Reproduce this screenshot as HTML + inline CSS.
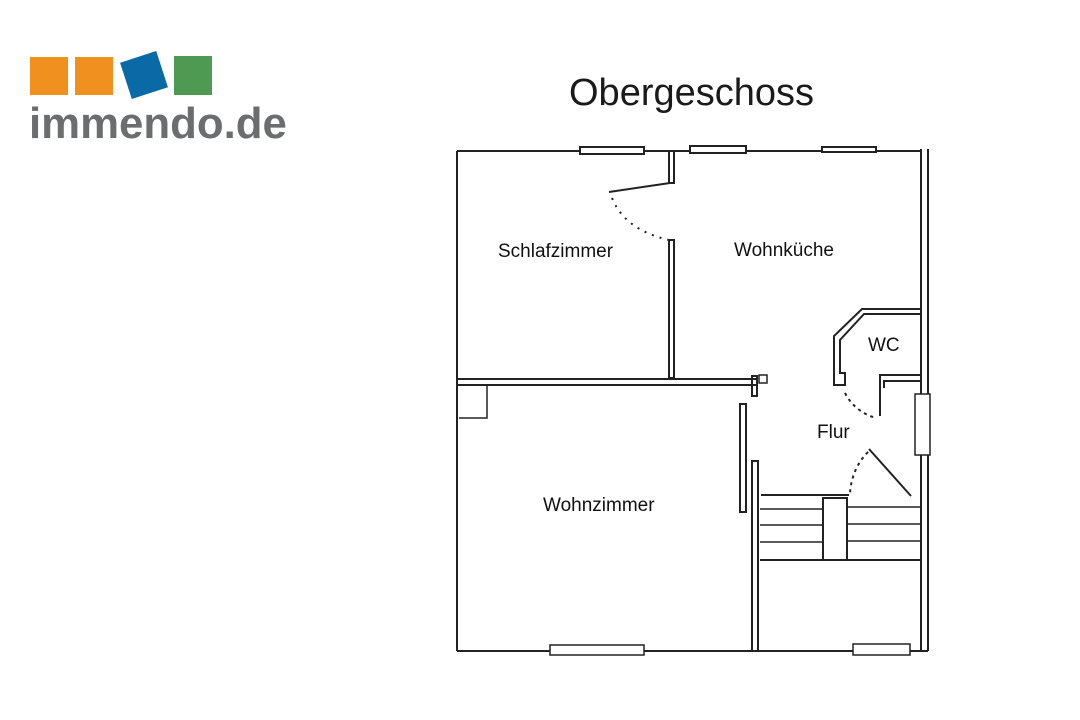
<!DOCTYPE html>
<html><head><meta charset="utf-8"><style>
body{margin:0;width:1080px;height:720px;background:#fff;overflow:hidden;position:relative;font-family:"Liberation Sans",sans-serif}
.t{position:absolute;color:#111}
</style></head><body>
<div style="position:absolute;left:30px;top:57px;width:38px;height:38px;background:#f0901e"></div>
<div style="position:absolute;left:75px;top:57px;width:38px;height:38px;background:#f0901e"></div>
<div style="position:absolute;left:125px;top:56px;width:38px;height:38px;background:#0a6aa6;transform:rotate(-18deg)"></div>
<div style="position:absolute;left:174px;top:56px;width:38px;height:39px;background:#4f9a52"></div>
<div class="t" style="left:29px;top:99px;font-size:44px;font-weight:bold;color:#6b6d6e;transform:scaleX(0.995);transform-origin:0 0">immendo.de</div>
<div class="t" style="left:569px;top:72px;font-size:38px;color:#1a1a1a">Obergeschoss</div>
<svg width="1080" height="720" style="position:absolute;left:0;top:0" fill="none" stroke="#222" stroke-width="2">
<line x1="457" y1="151" x2="921" y2="151"/>
<line x1="457" y1="151" x2="457" y2="651"/>
<line x1="457" y1="651" x2="928" y2="651"/>
<line x1="921" y1="149" x2="921" y2="651"/>
<line x1="928" y1="149" x2="928" y2="651"/>
<rect x="580" y="147" width="64" height="7" fill="#fff"/>
<rect x="690" y="146" width="56" height="7" fill="#fff"/>
<rect x="822" y="147" width="54" height="5" fill="#fff"/>
<rect x="550" y="645" width="94" height="10" fill="#fff" stroke-width="1.5"/>
<rect x="853" y="644" width="57" height="11" fill="#fff" stroke-width="1.5"/>
<rect x="915" y="394" width="15" height="61" fill="#fff" stroke-width="1.5"/>
<rect x="669" y="151" width="5" height="32"/>
<line x1="670" y1="183" x2="609" y2="192"/>
<path d="M612 198 Q625 230 669 240" stroke-dasharray="2 6"/>
<rect x="669" y="240" width="5" height="138"/>
<rect x="457" y="379" width="300" height="6"/>
<rect x="752" y="376" width="5" height="20"/>
<rect x="759" y="375" width="8" height="8" stroke-width="1.5"/>
<path d="M487 385 V418 H459" stroke-width="1.5"/>
<rect x="740" y="404" width="6" height="108"/>
<rect x="752" y="461" width="6" height="190"/>
<path d="M921 309 H862 L834 336 V385 H845 V373 H840 V340 L864 314 H921"/>
<path d="M921 375 H880 V416 M921 381 H884 V388"/>
<path d="M845 393 Q855 412 876 418" stroke-dasharray="3 4"/>
<line x1="869" y1="449" x2="911" y2="496"/>
<path d="M868 452 Q852 468 850 493" stroke-dasharray="3 4"/>
<line x1="761" y1="495" x2="849" y2="495"/>
<rect x="823" y="498" width="24" height="62"/>
<line x1="760" y1="509" x2="823" y2="509" stroke-width="1.5"/>
<line x1="760" y1="525" x2="823" y2="525" stroke-width="1.5"/>
<line x1="760" y1="542" x2="823" y2="542" stroke-width="1.5"/>
<line x1="847" y1="507" x2="921" y2="507" stroke-width="1.5"/>
<line x1="847" y1="524" x2="921" y2="524" stroke-width="1.5"/>
<line x1="847" y1="541" x2="921" y2="541" stroke-width="1.5"/>
<line x1="760" y1="560" x2="921" y2="560"/>
</svg>
<div class="t" style="left:498px;top:241px;font-size:19px">Schlafzimmer</div>
<div class="t" style="left:734px;top:240px;font-size:19px">Wohnküche</div>
<div class="t" style="left:868px;top:335px;font-size:19px">WC</div>
<div class="t" style="left:817px;top:422px;font-size:19px">Flur</div>
<div class="t" style="left:543px;top:495px;font-size:19px">Wohnzimmer</div>
</body></html>
